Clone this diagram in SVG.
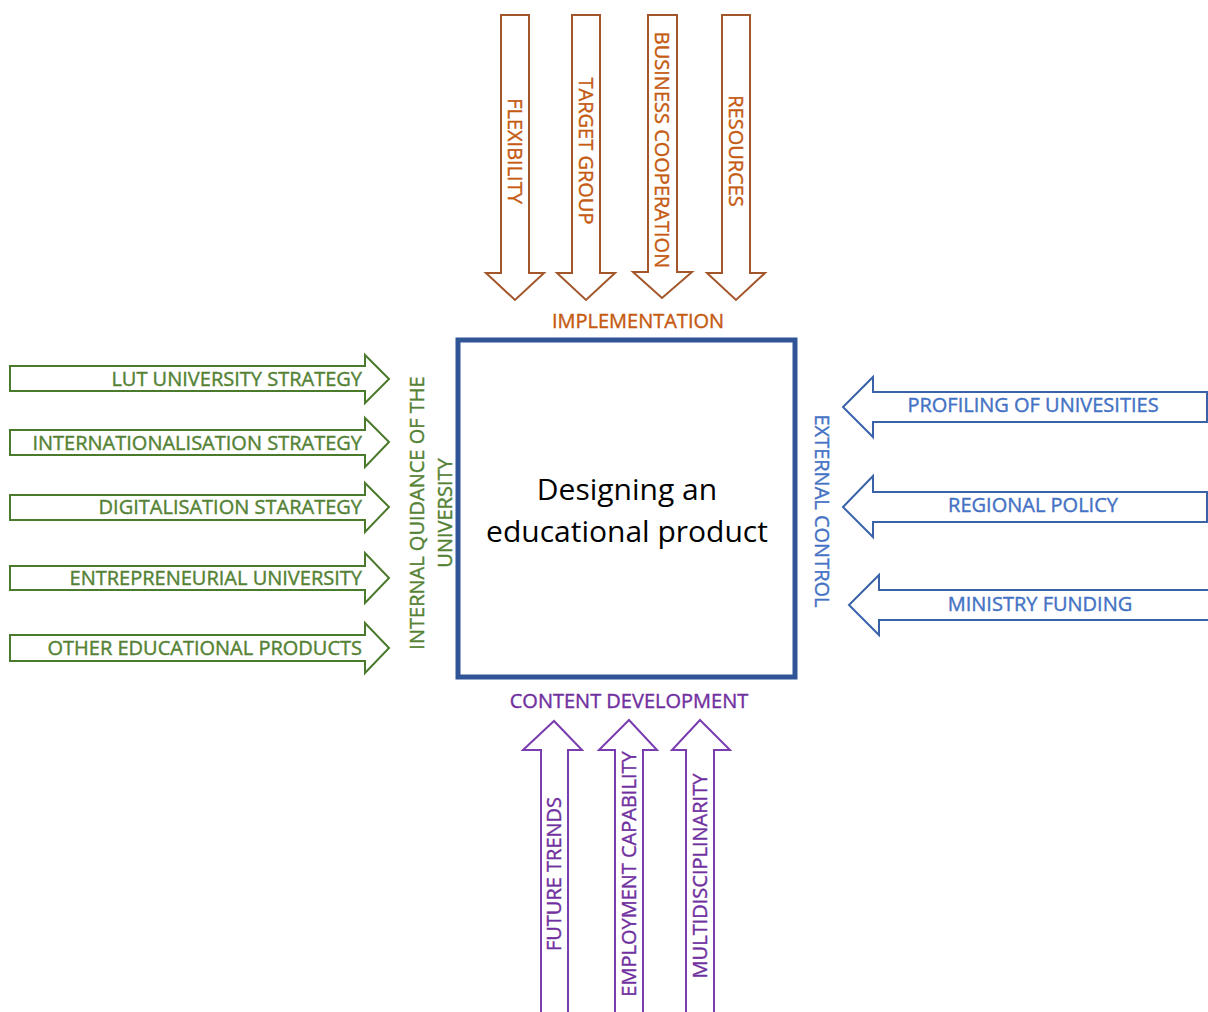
<svg xmlns="http://www.w3.org/2000/svg" width="1208" height="1012" viewBox="0 0 1208 1012">
<style>
text{font-family:"Open Sans","Liberation Sans",sans-serif;font-size:20px;stroke-width:0.4}
.arr{fill:#fff;stroke-width:2;stroke-linejoin:miter}
.o{stroke:#A2562A}.ot{fill:#C55A11;stroke:#C55A11}
.g{stroke:#4A7A2C}.gt{fill:#548235;stroke:#548235}
.b{stroke:#3A62A8}.bt{fill:#4472C4;stroke:#4472C4}
.p{stroke:#7A3DB0}.pt{fill:#7030A0;stroke:#7030A0}
.mid{text-anchor:middle}
.end{text-anchor:end}
</style>
<rect width="1208" height="1012" fill="#fff"/>
<g id="center">
<rect x="458" y="340" width="337" height="337" fill="#fff" stroke="#2F5597" stroke-width="5"/>
<text class="mid" x="627" y="500" style="font-size:30px;stroke:none" fill="#000">Designing an</text>
<text class="mid" x="627" y="542" style="font-size:30px;stroke:none" fill="#000">educational product</text>
</g>
<g id="connectors">
<g id="top-arrows">
<polygon class="arr o" points="501,15 529,15 529,273 544,273 515,300 486,273 501,273"/>
<polygon class="arr o" points="572,15 600,15 600,273 615,273 586,300 557,273 572,273"/>
<polygon class="arr o" points="648,15 677,15 677,272 692,272 662,298 633,272 648,272"/>
<polygon class="arr o" points="722,15 750,15 750,273 765,273 736,300 707,273 722,273"/>
</g>
<g id="left-arrows">
<polygon class="arr g" points="10,366 365,366 365,355 389,379 365,403 365,391 10,391"/>
<polygon class="arr g" points="10,430 365,430 365,418 389,442 365,467 365,455 10,455"/>
<polygon class="arr g" points="10,495 365,495 365,483 389,507 365,532 365,520 10,520"/>
<polygon class="arr g" points="10,566 365,566 365,553 389,578 365,603 365,590 10,590"/>
<polygon class="arr g" points="10,635 365,635 365,623 389,648 365,673 365,661 10,661"/>
</g>
<g id="right-arrows">
<polygon class="arr b" points="1207,392 873,392 873,377 843,407 873,437 873,422 1207,422"/>
<polygon class="arr b" points="1207,492 873,492 873,476 843,507 873,537 873,522 1207,522"/>
<polygon class="arr b" points="1212,590 879,590 879,575 849,605 879,635 879,620 1212,620"/>
</g>
<g id="bottom-arrows">
<polygon class="arr p" points="541,1016 541,750 523,750 554,721 582,750 568,750 568,1016"/>
<polygon class="arr p" points="615,1016 615,750 599,750 629,720 657,750 643,750 643,1016"/>
<polygon class="arr p" points="686,1016 686,750 672,750 700,720 730,750 714,750 714,1016"/>
</g>
</g>
<g id="top-labels">
<text class="mid ot" transform="translate(515,151) rotate(90)" y="7">FLEXIBILITY</text>
<text class="mid ot" transform="translate(586,151) rotate(90)" y="7">TARGET GROUP</text>
<text class="mid ot" transform="translate(662,150) rotate(90)" y="7">BUSINESS COOPERATION</text>
<text class="mid ot" transform="translate(736,151) rotate(90)" y="7">RESOURCES</text>
<text class="mid ot" x="638" y="328">IMPLEMENTATION</text>
</g>
<g id="left-labels">
<text class="end gt" x="362" y="386">LUT UNIVERSITY STRATEGY</text>
<text class="end gt" x="362" y="450">INTERNATIONALISATION STRATEGY</text>
<text class="end gt" x="362" y="514">DIGITALISATION STARATEGY</text>
<text class="end gt" x="362" y="585">ENTREPRENEURIAL UNIVERSITY</text>
<text class="end gt" x="362" y="655">OTHER EDUCATIONAL PRODUCTS</text>
<text class="mid gt" transform="translate(431,513) rotate(-90)"><tspan x="0" y="-7">INTERNAL QUIDANCE OF THE</tspan><tspan x="0" y="21">UNIVERSITY</tspan></text>
</g>
<g id="right-labels">
<text class="mid bt" x="1033" y="412">PROFILING OF UNIVESITIES</text>
<text class="mid bt" x="1033" y="512">REGIONAL POLICY</text>
<text class="mid bt" x="1040" y="611">MINISTRY FUNDING</text>
<text class="mid bt" transform="translate(822,511) rotate(90)" y="7">EXTERNAL CONTROL</text>
</g>
<g id="bottom-labels">
<text class="mid pt" x="629" y="708">CONTENT DEVELOPMENT</text>
<text class="mid pt" transform="translate(554,874) rotate(-90)" y="7">FUTURE TRENDS</text>
<text class="mid pt" transform="translate(629,874) rotate(-90)" y="7">EMPLOYMENT CAPABILITY</text>
<text class="mid pt" transform="translate(700,876) rotate(-90)" y="7">MULTIDISCIPLINARITY</text>
</g>
</svg>
